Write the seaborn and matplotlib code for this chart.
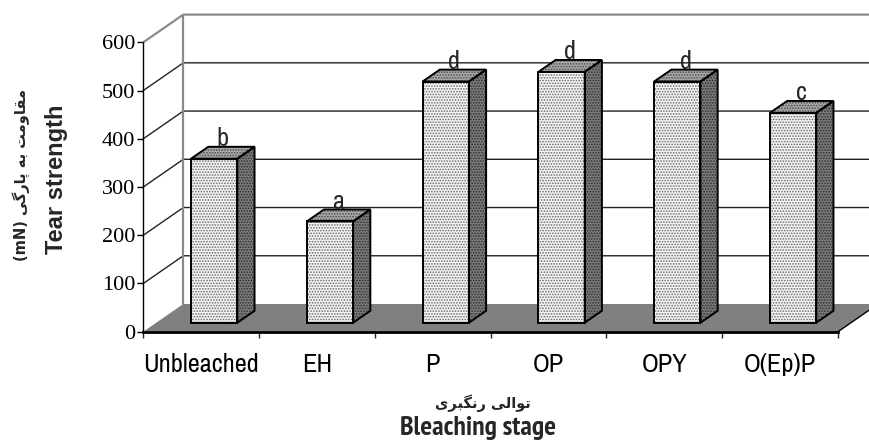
import matplotlib
matplotlib.use("Agg")
import matplotlib.pyplot as plt
import pandas as pd
import seaborn as sns
from matplotlib.patches import Polygon, Rectangle
from matplotlib.transforms import Affine2D
from matplotlib.font_manager import fontManager

# ---- data -------------------------------------------------------------
stages = ["Unbleached", "EH", "P", "OP", "OPY", "O(Ep)P"]
tear_strength = [340, 210, 500, 520, 500, 435]
groups = ["b", "a", "d", "d", "d", "c"]
y_ticks = [0, 100, 200, 300, 400, 500, 600]

# Persian captions, written in display order with Arabic presentation forms
ylabel_fa = "(mN) " + "\uFBFD\uFB94\uFEAD\uFE8E\uFB58" + " " + "\uFEEA\uFE91" + " " + \
            "\uFE96\uFEE3\uFEED\uFE8E\uFED8\uFEE3"
xlabel_fa = "\uFBFC\uFEAE\uFE92\uFB95\uFEE7\uFEAD" + " " + "\uFBFD\uFEDF\uFE8D\uFEEE\uFE97"

sns.set_style("white")
NARROW_CANDIDATES = ["Liberation Sans Narrow", "Arial Narrow", "Archivo Narrow", "PT Sans Narrow",
                     "Roboto Condensed", "Encode Sans Condensed", "Pragati Narrow"]
weights = {}
for f in fontManager.ttflist:
    w = f.weight if isinstance(f.weight, int) else (700 if str(f.weight) == "bold" else 400)
    weights.setdefault(f.name, set()).add(w)


def pick(bold):
    for cand in NARROW_CANDIDATES:
        if cand in weights and (not bold or max(weights[cand]) >= 600):
            return cand
    return "Liberation Sans"


NARROW = pick(False)
NARROW_BOLD = pick(True)
SERIF = "Liberation Serif"
plt.rcParams["font.family"] = [NARROW, "DejaVu Sans"]
plt.rcParams["hatch.linewidth"] = 0.8

W, H = 869, 443
fig = plt.figure(figsize=(W / 100, H / 100), dpi=100)
# front plane of the 3-D box
x0_px, x1_px, y0_px, y1_px = 143.3, 838.0, 331.7, 42.3
ax = fig.add_axes([x0_px / W, 1 - y0_px / H, (x1_px - x0_px) / W, (y0_px - y1_px) / H])

df = pd.DataFrame({"stage": stages, "tear": tear_strength})
sns.barplot(data=df, x="stage", y="tear", order=stages, width=0.4, ax=ax,
            color="#f4f4f4", saturation=1, edgecolor="#6a6a6a", linewidth=0,
            errorbar=None, zorder=5)
bars = list(ax.patches)

ax.set_xlim(-0.5, 5.5)
ax.set_ylim(0, 600)

# depth vector of the box in data units
DX = 40.0 / ((x1_px - x0_px) / 6)
DY = 27.7 * 600 / (y0_px - y1_px)
F0, FB = 0.325, 0.43   # bar front depth, bar thickness (fractions of box depth)

# floor
floor = Polygon([(-0.5, 0), (5.5, 0), (5.5 + DX, DY), (-0.5 + DX, DY)],
                closed=True, facecolor="#808080", edgecolor="none", zorder=1, clip_on=False)
ax.add_patch(floor)
ax.plot([5.5, 5.5 + DX], [0, DY], color="black", lw=1.0, zorder=2, clip_on=False)

# grid on side wall and back wall
for v in y_ticks[1:-1]:
    ax.plot([-0.5, -0.5 + DX, 5.5 + DX + 1], [v, v + DY, v + DY],
            color="#222222", lw=1.0, zorder=2, clip_on=False)
# wall frame
top = y_ticks[-1]
ax.plot([-0.5, -0.5 + DX, 5.5 + DX + 1], [top, top + DY, top + DY],
        color="#8a8a8a", lw=1.6, zorder=2, clip_on=False)
ax.plot([-0.5 + DX, -0.5 + DX], [DY, top + DY], color="#8a8a8a", lw=1.6, zorder=2, clip_on=False)


def face(pts, fc, dots, tr):
    ax.add_patch(Polygon(pts, closed=True, facecolor=fc, edgecolor=dots, lw=0,
                         hatch="......", transform=tr, zorder=5, clip_on=False))
    ax.add_patch(Polygon(pts, closed=True, fill=False, edgecolor="black", lw=1.4,
                         joinstyle="miter", transform=tr, zorder=6, clip_on=False))


off = Affine2D().translate(F0 * DX, F0 * DY) + ax.transData
ddx, ddy = FB * DX, FB * DY
for bar, letter in zip(bars, groups):
    bx, bw, bh = bar.get_x(), bar.get_width(), bar.get_height()
    bar.set_transform(off)
    bar.set_hatch("......")
    bar.set_clip_on(False)
    ax.add_patch(Rectangle((bx, 0), bw, bh, fill=False, edgecolor="black", lw=1.4,
                           transform=off, zorder=6, clip_on=False))
    face([(bx + bw, 0), (bx + bw, bh), (bx + bw + ddx, bh + ddy), (bx + bw + ddx, ddy)],
         "#7a7a7a", "#2e2e2e", off)
    face([(bx, bh), (bx + bw, bh), (bx + bw + ddx, bh + ddy), (bx + ddx, bh + ddy)],
         "#a8a8a8", "#4a4a4a", off)
    ax.text(bx + bw / 2 + ddx / 2 + F0 * DX, bh + ddy + F0 * DY + 1, letter,
            ha="center", va="baseline", fontsize=19, family=[NARROW], zorder=7)

# axes, ticks and labels
for s in ("top", "right"):
    ax.spines[s].set_visible(False)
ax.spines["left"].set_color("black")
ax.spines["left"].set_linewidth(1.0)
ax.spines["bottom"].set_color("black")
ax.spines["bottom"].set_linewidth(2.0)
ax.spines["left"].set_zorder(8)
ax.spines["bottom"].set_zorder(8)

ax.set_yticks(y_ticks)
ax.set_yticklabels([str(t) for t in y_ticks], fontsize=16, family=[SERIF])
ax.tick_params(axis="y", direction="out", length=4.3, width=1.0, pad=1.5, colors="black", left=True)

ax.set_xticks(range(len(stages)))
ax.set_xticklabels(stages, fontsize=19, family=[NARROW])
ax.tick_params(axis="x", which="major", length=0, pad=15, colors="black")
ax.set_xticks([i - 0.5 for i in range(len(stages) + 1)], minor=True)
ax.tick_params(axis="x", which="minor", direction="out", length=4, width=1.0, bottom=True)
ax.set_xlabel("")
ax.set_ylabel("")
ax.grid(False)
ax.patch.set_visible(False)


def px(x, y):
    return x / W, 1 - y / H


fig.text(*px(56, 179), "Tear strength", rotation=90, ha="center", va="center",
         fontsize=17, fontweight="bold", family=["Liberation Sans"])
fig.text(*px(21, 175), ylabel_fa, rotation=90, ha="center", va="center",
         fontsize=10.5, fontweight="bold", family=["DejaVu Sans"])
fig.text(*px(483, 403), xlabel_fa, ha="center", va="center",
         fontsize=10.5, fontweight="bold", family=["DejaVu Sans"])
fig.text(*px(478, 428), "Bleaching stage", ha="center", va="center",
         fontsize=20, fontweight="bold", family=[NARROW_BOLD])

fig.savefig("out.png", dpi=100)
